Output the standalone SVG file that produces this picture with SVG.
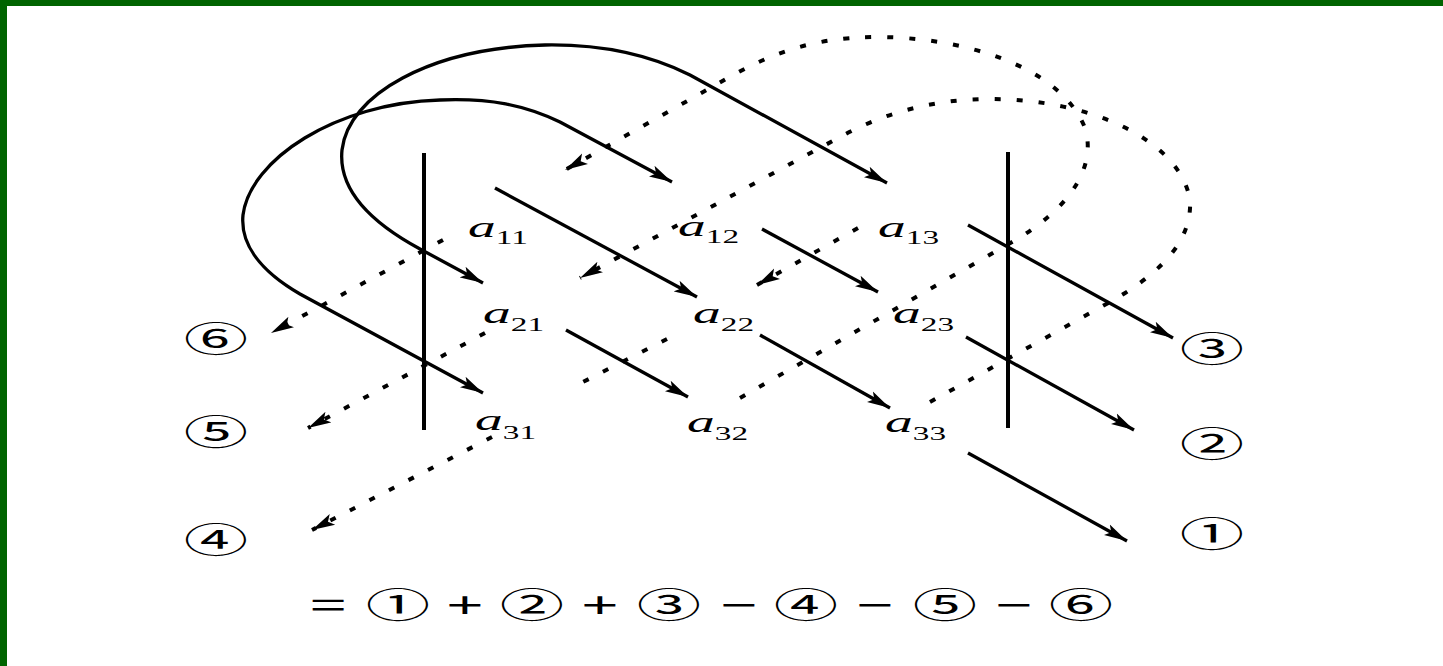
<svg xmlns="http://www.w3.org/2000/svg" width="1443" height="666" viewBox="0 0 1443 666">
<style>
.bg{fill:#ffffff}
.frame{fill:#006400}
.bar{stroke:#000;stroke-width:4;fill:none}
.solid{stroke:#000;stroke-width:3.3;fill:none}
.dot{stroke:#000;stroke-width:4;fill:none;stroke-dasharray:6 16}
.arr{marker-end:url(#ah)}
.arr2{marker-start:url(#ah);marker-end:url(#ah)}
.a{font-family:"Liberation Serif",serif;font-style:italic;font-size:30px;fill:#000}
.sub{font-family:"Liberation Serif",serif;font-size:18px;fill:#000}
.cn{font-family:"Noto Sans CJK SC","DejaVu Sans",sans-serif;font-size:35px;fill:#000;text-anchor:middle}
</style>
<defs>
<marker id="ah" markerUnits="userSpaceOnUse" markerWidth="25" markerHeight="14" viewBox="0 0 25 14" refX="23" refY="7" orient="auto-start-reverse">
<path d="M0,1 L23,7 L0,13 L5,7 z" fill="#000" stroke="none"/>
</marker>
</defs>
<rect class="bg" x="0" y="0" width="1443" height="666"/>
<rect class="frame" x="0" y="0" width="1443" height="6"/>
<rect class="frame" x="0" y="0" width="7" height="666"/>

<g id="bars">
<line class="bar" x1="424" y1="153" x2="424" y2="430"/>
<line class="bar" x1="1008" y1="152" x2="1008" y2="428"/>
</g>

<g id="connectors">
<!-- solid diagonals -->
<line class="solid arr" x1="495" y1="188" x2="697" y2="297"/>
<line class="solid arr" x1="760" y1="335" x2="890" y2="408"/>
<line class="solid arr" x1="968" y1="453" x2="1127" y2="541"/>
<line class="solid arr" x1="762" y1="229" x2="878" y2="292"/>
<line class="solid arr" x1="966" y1="337" x2="1134" y2="430"/>
<line class="solid arr" x1="968" y1="225" x2="1173" y2="338"/>
<line class="solid arr" x1="566" y1="330" x2="688" y2="397"/>
<!-- solid wrap curves -->
<path class="solid arr2" d="M483,283 L420,249 C370,222 338,190 342,150 C348,95 430,48 545,45 C605,44 652,56 690,75 L887,183"/>
<path class="solid arr2" d="M483,393 L300,294 C262,272 240,245 243,215 C250,160 335,103 440,100 C490,98 525,105 560,122 L672,182"/>
<!-- dotted diagonals -->
<line class="dot arr" x1="858" y1="228" x2="757" y2="285"/>
<line class="dot" x1="667" y1="339" x2="583" y2="382"/>
<line class="dot arr" x1="492" y1="437" x2="312" y2="530"/>
<line class="dot arr" x1="443" y1="240" x2="271" y2="333"/>
<line class="dot arr" x1="485" y1="333" x2="308" y2="428"/>
<!-- dotted wrap curves -->
<path class="dot arr" d="M740,398 L1005,246 C1080,205 1095,160 1085,128 C1060,65 960,37 877,37 C800,37 755,62 712,87 L565,170"/>
<path class="dot arr" d="M930,402 L1110,302 C1170,268 1192,235 1190,200 C1180,140 1090,99 990,99 C930,99 880,115 840,137 L580,278"/>
</g>

<g id="a11" transform="translate(468,237) scale(1.85,1)"><text x="0" y="0"><tspan class="a">a</tspan><tspan class="sub" dy="7">11</tspan></text></g>
<g id="a12" transform="translate(678,236) scale(1.85,1)"><text x="0" y="0"><tspan class="a">a</tspan><tspan class="sub" dy="7">12</tspan></text></g>
<g id="a13" transform="translate(878,237) scale(1.85,1)"><text x="0" y="0"><tspan class="a">a</tspan><tspan class="sub" dy="7">13</tspan></text></g>
<g id="a21" transform="translate(483,323) scale(1.85,1)"><text x="0" y="0"><tspan class="a">a</tspan><tspan class="sub" dy="8">21</tspan></text></g>
<g id="a22" transform="translate(693,323) scale(1.85,1)"><text x="0" y="0"><tspan class="a">a</tspan><tspan class="sub" dy="8">22</tspan></text></g>
<g id="a23" transform="translate(893,323) scale(1.85,1)"><text x="0" y="0"><tspan class="a">a</tspan><tspan class="sub" dy="8">23</tspan></text></g>
<g id="a31" transform="translate(475,430) scale(1.85,1)"><text x="0" y="0"><tspan class="a">a</tspan><tspan class="sub" dy="9">31</tspan></text></g>
<g id="a32" transform="translate(687,432) scale(1.85,1)"><text x="0" y="0"><tspan class="a">a</tspan><tspan class="sub" dy="8">32</tspan></text></g>
<g id="a33" transform="translate(885,432) scale(1.85,1)"><text x="0" y="0"><tspan class="a">a</tspan><tspan class="sub" dy="8">33</tspan></text></g>

<g id="n6" transform="translate(216,352) scale(1.84,1)"><text class="cn" x="0" y="0">⑥</text></g>
<g id="n5" transform="translate(216,445) scale(1.84,1)"><text class="cn" x="0" y="0">⑤</text></g>
<g id="n4" transform="translate(216,553) scale(1.84,1)"><text class="cn" x="0" y="0">④</text></g>
<g id="n3" transform="translate(1212,362) scale(1.84,1)"><text class="cn" x="0" y="0">③</text></g>
<g id="n2" transform="translate(1212,457) scale(1.84,1)"><text class="cn" x="0" y="0">②</text></g>
<g id="n1" transform="translate(1212,547) scale(1.84,1)"><text class="cn" x="0" y="0">①</text></g>

<g id="formula" transform="translate(0,618) scale(1.84,1)">
<text class="cn" y="0"><tspan x="182.2">=</tspan> <tspan x="220.2">①</tspan> <tspan x="256.6">+</tspan> <tspan x="293">②</tspan> <tspan x="330">+</tspan> <tspan x="367.5">③</tspan> <tspan x="405.5">−</tspan> <tspan x="441.9">④</tspan> <tspan x="479.4">−</tspan> <tspan x="517.5">⑤</tspan> <tspan x="555">−</tspan> <tspan x="587.5">⑥</tspan></text>
</g>
</svg>
